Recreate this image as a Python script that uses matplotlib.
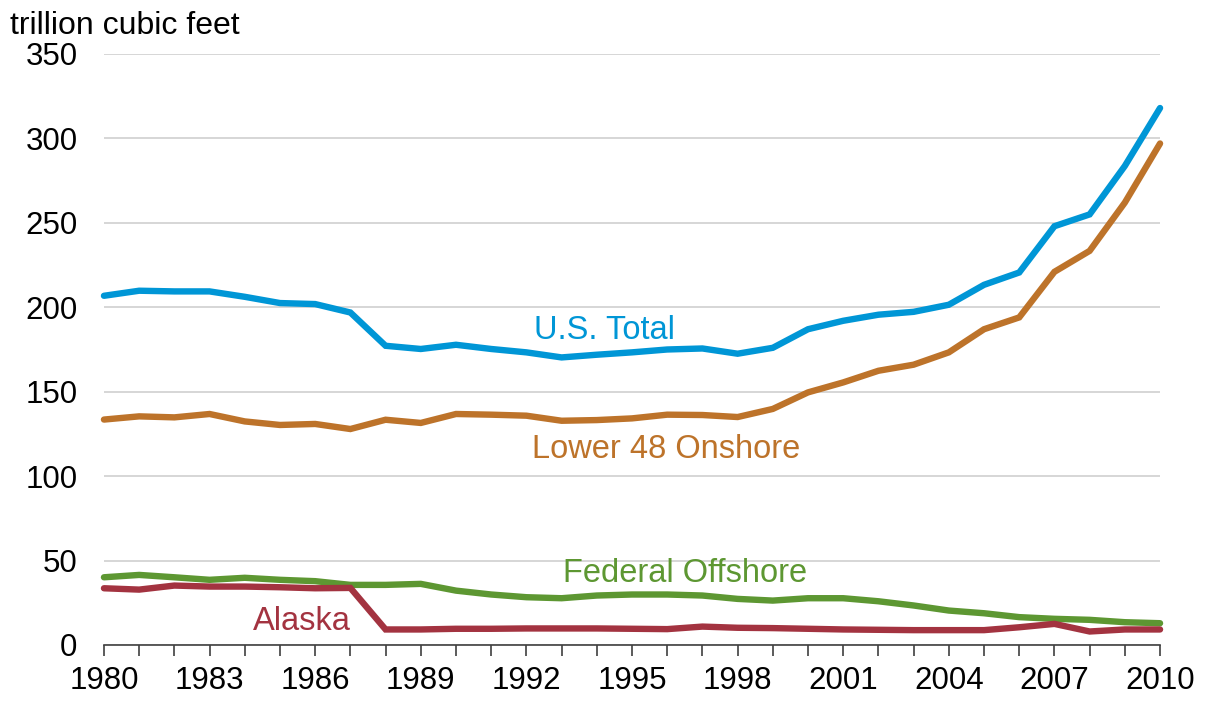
import numpy as np
import matplotlib
matplotlib.use('Agg')
import matplotlib.pyplot as plt
from matplotlib.ticker import MultipleLocator

plt.rcParams['font.family'] = ['Liberation Sans', 'DejaVu Sans']

years = list(range(1980, 2011))

us_total = [206.8, 209.8, 209.4, 209.4, 206.2, 202.5, 201.9, 196.9, 177.2, 175.3,
            177.8, 175.3, 173.3, 170.3, 171.9, 173.3, 175.0, 175.6, 172.5, 176.0,
            187.0, 192.0, 195.6, 197.3, 201.5, 213.3, 220.6, 248.0, 255.0, 283.7,
            318.0]
lower48 = [133.5, 135.4, 134.8, 136.8, 132.4, 130.3, 130.9, 127.9, 133.4, 131.5,
           136.8, 136.4, 135.8, 132.8, 133.2, 134.2, 136.4, 136.2, 135.0, 139.8,
           149.6, 155.5, 162.4, 166.0, 173.3, 187.0, 194.0, 221.0, 233.4, 262.0,
           297.0]
fed_offshore = [40.1, 41.5, 40.1, 38.6, 39.8, 38.6, 37.8, 35.6, 35.6, 36.2,
                32.2, 29.9, 28.3, 27.7, 29.3, 29.9, 29.9, 29.3, 27.3, 26.3,
                27.7, 27.7, 25.9, 23.4, 20.4, 18.8, 16.5, 15.5, 14.9, 13.5,
                12.9]
alaska = [33.6, 32.8, 35.2, 34.6, 34.6, 34.2, 33.6, 33.8, 9.2, 9.2,
          9.6, 9.6, 9.8, 9.8, 9.8, 9.6, 9.4, 10.9, 10.2, 10.0,
          9.6, 9.2, 9.0, 8.8, 8.8, 8.8, 10.5, 12.5, 8.0, 9.2,
          9.2]

series = [
    ('U.S. Total', us_total, '#0096D6', (1994.23, 186.1)),
    ('Lower 48 Onshore', lower48, '#BD732A', (1995.96, 115.7)),
    ('Federal Offshore', fed_offshore, '#5D9732', (1996.5, 42.3)),
    ('Alaska', alaska, '#A33340', (1985.63, 13.7)),
]

fig = plt.figure(figsize=(12.06, 7.02), dpi=100)
ax = fig.add_axes([0.0862, 0.0812, 0.8757, 0.8419])

for name, vals, col, (tx, ty) in series:
    ax.plot(years, vals, color=col, lw=4.6, solid_capstyle='round',
            solid_joinstyle='miter', clip_on=False, zorder=3)
    ax.text(tx, ty, name, color=col, fontsize=23.5, ha='center', va='center')

ax.set_xlim(1980, 2010)
ax.set_ylim(0, 350)
ax.set_yticks(np.arange(0, 351, 50))
ax.set_xticks(np.arange(1980, 2011, 3))
ax.xaxis.set_minor_locator(MultipleLocator(1))
ax.grid(axis='y', color='#d0d0d0', lw=1.2)
ax.set_axisbelow(True)

for s in ['top', 'right', 'left']:
    ax.spines[s].set_visible(False)
ax.spines['bottom'].set_color('#404040')
ax.spines['bottom'].set_linewidth(1.2)
ax.spines['bottom'].set_zorder(2)

ax.tick_params(axis='y', length=0, pad=19, labelsize=22.5)
ax.tick_params(axis='x', which='both', direction='out', length=8,
               width=1.2, color='#404040', pad=7, labelsize=22.5)

fig.text(0.008, 0.985, 'trillion cubic feet', fontsize=23, ha='left', va='top')

fig.savefig('out.png', dpi=100)
